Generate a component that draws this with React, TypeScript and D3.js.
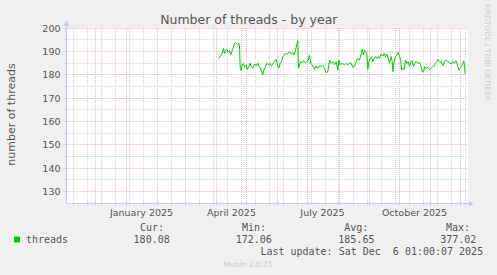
import React from 'react';
import * as d3 from 'd3';

const W = 497;
const H = 275;

const title = 'Number of threads - by year';
const yAxisLabel = 'number of threads';
const yMajorTicks = [130, 140, 150, 160, 170, 180, 190, 200];
const yMinorTicks = [135, 145, 155, 165, 175, 185, 195];
const xLabelMonths = ['2025-01-01', '2025-04-01', '2025-07-01', '2025-10-01'];
const xLabelTexts = ['January 2025', 'April 2025', 'July 2025', 'October 2025'];
const rangeStart = '2024-11-02';
const rangeEnd = '2025-12-07';
const minorGridAnchor = '2024-11-09';

const seriesName = 'threads';
const seriesStart = '2025-04-01';
const dayOffsets = [
  2.0, 3.7, 5.0, 6.3, 7.0, 8.0, 9.0, 10.3, 11.7, 13.0, 14.3, 15.7, 16.7, 17.7, 19.0, 20.3, 21.3, 22.3, 23.0,
  23.7, 24.7, 25.7, 27.0, 28.0, 29.7, 30.7, 32.3, 33.7, 34.7, 36.3, 38.0, 39.7, 41.3, 43.0, 44.7, 46.3, 47.3,
  49.0, 50.3, 52.3, 53.7, 55.0, 56.3, 58.0, 59.7, 61.3, 62.3, 63.7, 65.0, 66.3, 68.0, 69.0, 70.3, 71.7, 73.0,
  74.7, 76.3, 77.7, 79.0, 80.3, 81.3, 82.0, 83.0, 84.0, 85.7, 87.0, 89.0, 90.3, 91.7, 93.0, 94.3, 95.7, 97.0,
  98.0, 99.7, 101.3, 103.0, 104.7, 106.3, 108.0, 109.7, 111.3, 113.0, 114.7, 116.3, 118.0, 119.7, 121.3, 122.3,
  123.7, 125.7, 128.0, 129.7, 131.3, 133.0, 134.7, 136.3, 138.0, 139.7, 141.3, 143.0, 144.7, 145.7, 147.0,
  148.0, 149.0, 150.3, 151.3, 152.3, 153.7, 155.0, 156.3, 157.7, 159.0, 160.3, 161.7, 163.0, 164.7, 166.3,
  167.7, 169.0, 170.3, 171.7, 173.0, 174.7, 175.7, 176.3, 177.3, 179.0, 180.3, 181.7, 183.0, 184.3, 185.0,
  186.3, 187.7, 189.0, 190.3, 191.7, 193.0, 194.3, 195.7, 197.0, 198.3, 199.7, 201.3, 203.0, 204.7, 205.7,
  207.0, 208.3, 209.7, 211.3, 213.0, 214.7, 216.3, 218.0, 219.0, 220.3, 221.7, 223.0, 224.7, 226.3, 228.0,
  229.7, 231.3, 233.0, 234.7, 236.3, 238.0, 239.7, 241.3, 242.3, 243.7, 245.0, 246.3, 247.3, 248.0, 248.7,
];
const threads = [
  187.1, 188.1, 188.7, 190.4, 191.4, 189.3, 190.4, 191.0, 189.9, 190.4, 188.7, 190.4, 191.4, 193.3, 193.9, 193.3, 193.0, 193.6, 192.9,
  182.9, 181.9, 184.3, 185.0, 183.6, 184.3, 182.4, 183.6, 185.0, 183.6, 182.9, 184.7, 183.9, 185.0, 183.6, 182.1, 180.0, 182.1,
  183.6, 185.0, 184.3, 185.0, 183.9, 184.7, 185.7, 186.7, 183.9, 182.9, 185.0, 185.7, 187.9, 188.6, 189.3, 189.0, 189.3, 190.0,
  189.0, 189.6, 188.6, 190.7, 192.9, 194.6, 182.9, 184.3, 185.7, 185.3, 186.1, 185.3, 185.7, 186.4, 188.6, 185.0, 184.3, 183.6,
  182.4, 183.9, 182.9, 183.9, 183.6, 184.3, 182.9, 181.0, 181.4, 186.4, 185.0, 185.7, 184.3, 185.7, 182.1, 186.4,
  184.3, 185.0, 184.3, 185.0, 184.3, 185.3, 185.0, 183.3, 183.6, 185.7, 187.1, 186.4, 189.3, 191.0, 188.6,
  190.7, 190.0, 189.3, 182.4, 185.7, 187.1, 187.9, 185.7, 187.1, 187.9, 187.1, 187.9, 187.1, 189.0, 188.1,
  189.3, 187.9, 189.0, 187.1, 185.0, 187.9, 185.7, 181.4, 185.0, 187.9, 188.6, 189.7, 187.9, 186.4, 182.1,
  182.9, 182.4, 186.4, 185.0, 185.7, 183.6, 185.7, 186.1, 183.6, 185.0, 185.7, 185.0, 185.3, 183.6, 181.4,
  181.4, 183.6, 182.9, 183.3, 182.4, 182.9, 183.6, 183.9, 185.0, 185.7, 186.7, 185.7, 185.7, 183.9, 185.7,
  186.4, 185.7, 185.3, 184.7, 185.7, 185.0, 186.1, 183.6, 182.1, 182.9, 183.6, 185.0, 186.1, 183.6, 180.4,
];

const legendHeaders = ['Cur:', 'Min:', 'Avg:', 'Max:'];
const legendValues = ['180.08', '172.06', '185.65', '377.02'];
const lastUpdate = 'Last update: Sat Dec  6 01:00:07 2025';
const credit = 'Munin 2.0.75';
const watermark = 'RRDTOOL / TOBI OETIKER';

const SANS = 'DejaVu Sans, Verdana, sans-serif';
const MONO = 'DejaVu Sans Mono, monospace';

export default function App() {
  const left = 66.5;
  const right = 466.5;
  const top = 28.33;
  const bottom = 203.33;

  const x = d3.scaleUtc().domain([new Date(rangeStart), new Date(rangeEnd)]).range([left, right]);
  const y = d3.scaleLinear().domain([125, 200]).range([bottom, top]);

  const px = (v: number) => Math.floor(v) + 0.5;

  const start = new Date(seriesStart);
  const pts: [Date, number][] = dayOffsets.map((d, i) => [
    new Date(start.getTime() + d * 86400000),
    threads[i],
  ]);
  const line = d3
    .line<[Date, number]>()
    .x((d) => x(d[0]))
    .y((d) => y(d[1]));

  const months = d3.utcMonth.range(new Date(rangeStart), new Date(rangeEnd));
  const minorDates: Date[] = [];
  for (let t = new Date(minorGridAnchor); t < new Date(rangeEnd); t = d3.utcDay.offset(t, 14)) {
    minorDates.push(t);
  }

  const gridGray = '#d2d2d2';
  const gridRed = '#ebb4b4';
  const axisCol = '#c8c8f4';
  const textCol = '#555555';

  const plotTop = 28;
  const plotBot = 203.5;

  const headerX = [140, 242, 344.3, 446];
  const valueX = [133.6, 235.7, 338.3, 440.2];

  return (
    <svg
      width={W}
      height={H}
      viewBox={`0 0 ${W} ${H}`}
      style={{ position: 'absolute', left: 0, top: 0, display: 'block' }}
    >
      <rect x={0} y={0} width={W} height={H} fill="#f0f0f0" />
      <rect x={66} y={plotTop} width={401.5} height={plotBot - plotTop} fill="#ffffff" />

      {yMinorTicks.map((v) => (
        <line key={'hm' + v} x1={64.5} x2={467} y1={px(y(v))} y2={px(y(v))} stroke={gridGray} strokeWidth={1} strokeDasharray="1,1" />
      ))}
      {minorDates.map((d, i) => (
        <line key={'vm' + i} x1={px(x(d))} x2={px(x(d))} y1={plotTop} y2={205} stroke={gridGray} strokeWidth={1} strokeDasharray="1,1" />
      ))}
      {yMajorTicks.map((v) => (
        <line key={'hM' + v} x1={63.5} x2={467} y1={px(y(v))} y2={px(y(v))} stroke={gridRed} strokeWidth={1} strokeDasharray="1,1" />
      ))}
      {months.map((d, i) => (
        <line key={'vM' + i} x1={px(x(d))} x2={px(x(d))} y1={plotTop} y2={206.5} stroke={gridRed} strokeWidth={1} strokeDasharray="1,1" />
      ))}

      <line x1={66.5} x2={66.5} y1={25} y2={203.5} stroke={axisCol} strokeWidth={1} />
      <line x1={66} x2={470} y1={203.5} y2={203.5} stroke={axisCol} strokeWidth={1} />
      <path d="M66.5,20.5 L69.3,26 L63.7,26 Z" fill={axisCol} />
      <path d="M473.5,203.5 L469,200.7 L469,206.3 Z" fill={axisCol} />

      <path d={line(pts) || ''} fill="none" stroke="#00cc00" strokeWidth={1} />

      {yMajorTicks.map((v) => (
        <text key={'yl' + v} x={60.5} y={px(y(v)) + 3.2} textAnchor="end" fontFamily={SANS} fontSize={9.5} fill={textCol}>
          {v}
        </text>
      ))}
      {xLabelMonths.map((m, i) => (
        <text
          key={'xl' + i}
          x={x(d3.utcDay.offset(new Date(m), 15))}
          y={215.6}
          textAnchor="middle"
          fontFamily={SANS}
          fontSize={9.5}
          fill={textCol}
        >
          {xLabelTexts[i]}
        </text>
      ))}

      <text x={248.8} y={24} textAnchor="middle" fontFamily={SANS} fontSize={12.5} fill={textCol}>
        {title}
      </text>

      <text
        transform={`translate(15,114.5) rotate(-90)`}
        textAnchor="middle"
        fontFamily={SANS}
        fontSize={11}
        fill={textCol}
      >
        {yAxisLabel}
      </text>

      <text
        transform={`translate(485.3,4.6) rotate(90)`}
        textAnchor="start"
        fontFamily={SANS}
        fontSize={7.5}
        fill="#cccccc"
      >
        {watermark}
      </text>

      <rect x={14} y={236.6} width={6} height={5.8} fill="#00cc00" />
      <text x={26} y={243} fontFamily={MONO} fontSize={10} fill={textCol}>
        {seriesName}
      </text>
      {legendHeaders.map((h, i) => (
        <text key={'lh' + i} x={headerX[i]} y={231} fontFamily={MONO} fontSize={10} fill={textCol}>
          {h}
        </text>
      ))}
      {legendValues.map((v, i) => (
        <text key={'lv' + i} x={valueX[i]} y={243} fontFamily={MONO} fontSize={10} fill={textCol}>
          {v}
        </text>
      ))}
      <text x={260.4} y={254.8} fontFamily={MONO} fontSize={10} fill={textCol} style={{ whiteSpace: 'pre' }}>
        {lastUpdate}
      </text>

      <text x={248} y={267.3} textAnchor="middle" fontFamily={SANS} fontSize={7.5} fill="#cccccc">
        {credit}
      </text>
    </svg>
  );
}
